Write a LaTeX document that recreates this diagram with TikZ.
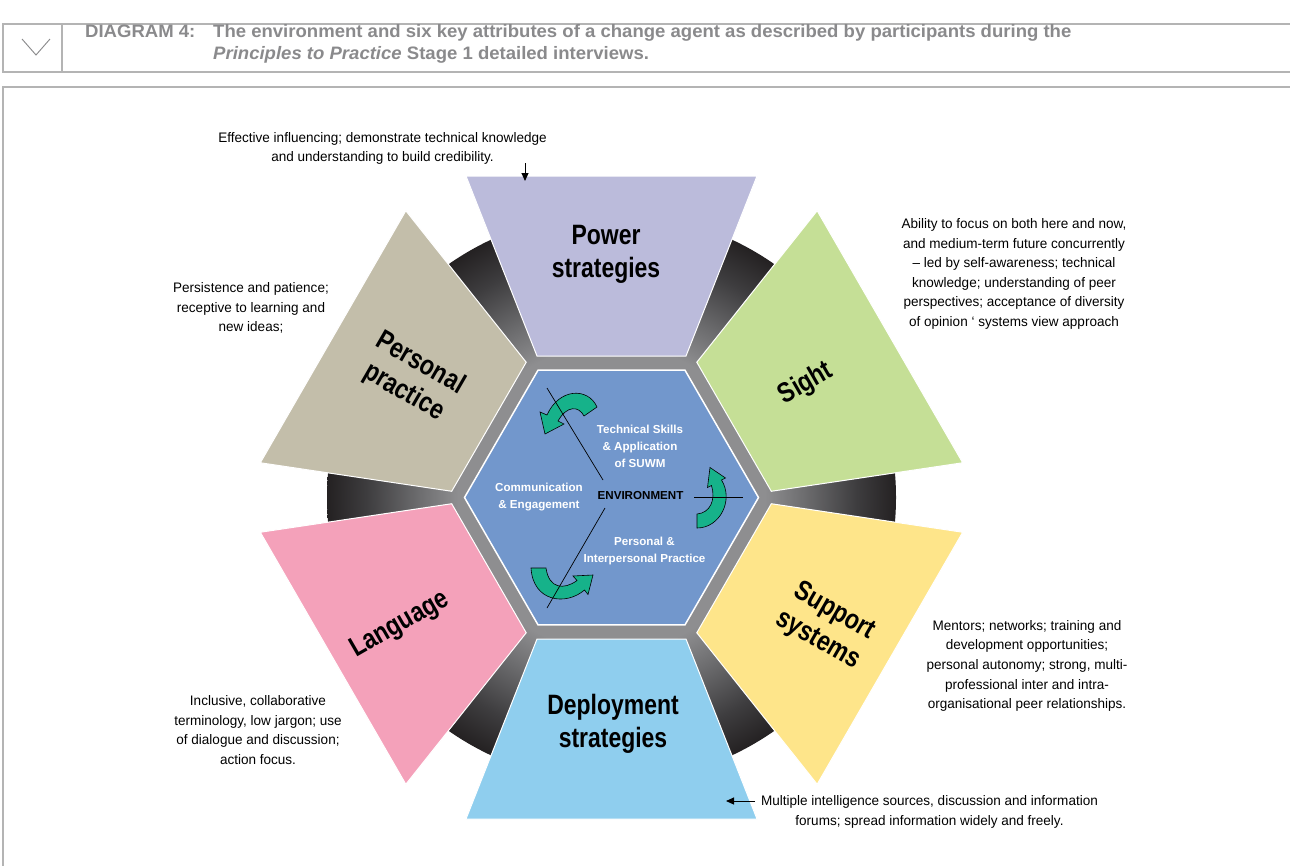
\documentclass[tikz,border=0pt]{standalone}
\usepackage{fontspec}
\setmainfont{Liberation Sans}
\newfontfamily\labfont[FakeStretch=0.82]{Liberation Sans}
\newfontfamily\annfont[FakeStretch=0.98]{Liberation Sans}
\newfontfamily\hdrfont[FakeStretch=1.03]{Liberation Sans}
\usetikzlibrary{arrows.meta}
\definecolor{cpower}{RGB}{187,187,219}
\definecolor{csight}{RGB}{197,223,150}
\definecolor{csupport}{RGB}{254,229,138}
\definecolor{cdeploy}{RGB}{143,206,238}
\definecolor{clang}{RGB}{244,161,186}
\definecolor{cpers}{RGB}{195,190,170}
\definecolor{hexblue}{RGB}{114,151,204}
\definecolor{teala}{RGB}{22,178,138}
\definecolor{framegray}{RGB}{180,180,180}
\definecolor{hdrgray}{RGB}{138,138,140}
\definecolor{rga}{RGB}{142,142,144}
\definecolor{rgb}{RGB}{108,108,110}
\definecolor{rgc}{RGB}{62,61,63}
\definecolor{rgd}{RGB}{36,33,34}
\pgfdeclareradialshading{ringshade}{\pgfpointorigin}{color(0bp)=(rga); color(13.5bp)=(rga); color(17bp)=(rgb); color(21.5bp)=(rgc); color(25bp)=(rgd); color(50bp)=(rgd)}
\begin{document}
\begin{tikzpicture}[x=1pt,y=-1pt,
  lab/.style={font=\labfont\bfseries\fontsize{28}{33}\selectfont, align=center, inner sep=0pt, text=black},
  ann/.style={font=\annfont\fontsize{13.8}{19.6}\selectfont, align=center, inner sep=0pt, text=black},
  hext/.style={font=\bfseries\fontsize{11.6}{17}\selectfont, align=center, inner sep=0pt, text=white},
  hdr/.style={font=\hdrfont\bfseries\fontsize{18}{21}\selectfont, inner sep=0pt, text=hdrgray, anchor=base west},
  seg/.style={draw=white, line width=1pt},
  band/.style={fill=teala, draw=black, line width=0.6pt},
  pointer/.style={-{Triangle[length=8pt,width=7pt]}, line width=1pt},
  frame/.style={draw=framegray, line width=1.2pt}]
\useasboundingbox (0,0) rectangle (1290,865);
\fill[white] (0,0) rectangle (1290,865);
% header
\draw[frame] (1295,24) -- (3,24) -- (3,72) -- (1295,72);
\draw[frame] (62,24) -- (62,72);
\draw[draw=hdrgray, line width=0.9pt] (22,39) -- (36,55) -- (50,39);
\draw[frame] (1295,87) -- (3,87) -- (3,870);
\node[hdr] (h1) at (85,37) {DIAGRAM 4:};
\node[hdr] (h2) at (213,37) {The environment and six key attributes of a change agent as described by participants during the};
\node[hdr] (h3) at (213,59) {\itshape Principles to Practice\upshape{} Stage 1 detailed interviews.};
% wheel
\begin{scope}[shift={(611.5,497.5)}]
\shade[shading=ringshade] (0,0) circle (284.5);
\foreach \ang/\col in {0/cpower,-60/csight,-120/csupport,180/cdeploy,120/clang,60/cpers}
  \draw[seg, fill=\col, rotate=\ang] (-74.5,-141.5) -- (74.5,-141.5) -- (145.5,-321.5) -- (-145.5,-321.5) -- cycle;
\draw[white, line width=1.5pt, fill=hexblue] (0:147) -- (60:147) -- (120:147) -- (180:147) -- (240:147) -- (300:147) -- cycle;
\end{scope}
% curved arrows
\path[band] (597,407) .. controls (588,387) and (559,388) .. (547,415) -- (540,412) -- (545,434) -- (564,424) -- (558,421) .. controls (567,405) and (579,406) .. (584,416) -- cycle;
\path[band] (697,528) .. controls (720,528) and (734,500) .. (721.5,480) -- (725.5,478) -- (710,467.5) -- (707.5,487.5) -- (711.5,485.5) .. controls (716,500) and (710,513) .. (697,514) -- cycle;
\path[band] (531,568) .. controls (533,602) and (566,606) .. (584.5,590) -- (588,594.5) -- (593,575) -- (573,576) -- (577,580.5) .. controls (564,590) and (549,589) .. (546,568) -- cycle;
% lines in hexagon
\coordinate (la1) at (547,388); \coordinate (la2) at (603,480);
\coordinate (lb1) at (605,508); \coordinate (lb2) at (547,608);
\coordinate (lc1) at (694,497); \coordinate (lc2) at (743,497);
\draw[line width=0.7pt] (la1) -- (la2);
\draw[line width=0.7pt] (lb1) -- (lb2);
\draw[line width=0.7pt] (lc1) -- (lc2);
% hexagon texts
\node[hext] (tech) at (640,446) {Technical Skills\\ \& Application\\ of SUWM};
\node[hext] (comm) at (539,497) {Communication\\ \& Engagement};
\node[hext] (pers) at (644.5,551) {Personal \&\\ Interpersonal Practice};
\node[hext, text=black] (env) at (640.5,495.5) {ENVIRONMENT};
% labels
\node[lab] (power) at (606,254.5) {Power\\ strategies};
\node[lab] (deploy) at (613,723.5) {Deployment\\ strategies};
\node[lab, rotate=-30] (perspr) at (412,378) {Personal\\ practice};
\node[lab, rotate=30] (sight) at (806,384) {Sight};
\node[lab, rotate=30] (lang) at (400,625) {Language};
\node[lab, rotate=-30] (supp) at (826,626) {Support\\ systems};
% annotations
\node[ann] (a1) at (382.5,148.5) {Effective influencing; demonstrate technical knowledge\\ and understanding to build credibility.};
\node[ann] (a2) at (251,308) {Persistence and patience;\\ receptive to learning and\\ new ideas;};
\node[ann] (a3) at (1014,274) {Ability to focus on both here and now,\\ and medium-term future concurrently\\ – led by self-awareness; technical\\ knowledge; understanding of peer\\ perspectives; acceptance of diversity\\ of opinion ‘ systems view approach};
\node[ann] (a4) at (1027,666) {Mentors; networks; training and\\ development opportunities;\\ personal autonomy; strong, multi-\\ professional inter and intra-\\ organisational peer relationships.};
\node[ann] (a5) at (258,730) {Inclusive, collaborative\\ terminology, low jargon; use\\ of dialogue and discussion;\\ action focus.};
\node[ann] (a6) at (929.5,812) {Multiple intelligence sources, discussion and information\\ forums; spread information widely and freely.};
\coordinate (p1a) at (525,163); \coordinate (p1b) at (525,181);
\coordinate (p2a) at (755,801); \coordinate (p2b) at (726,801);
\draw[pointer] (p1a) -- (p1b);
\draw[pointer] (p2a) -- (p2b);
\end{tikzpicture}
\end{document}
